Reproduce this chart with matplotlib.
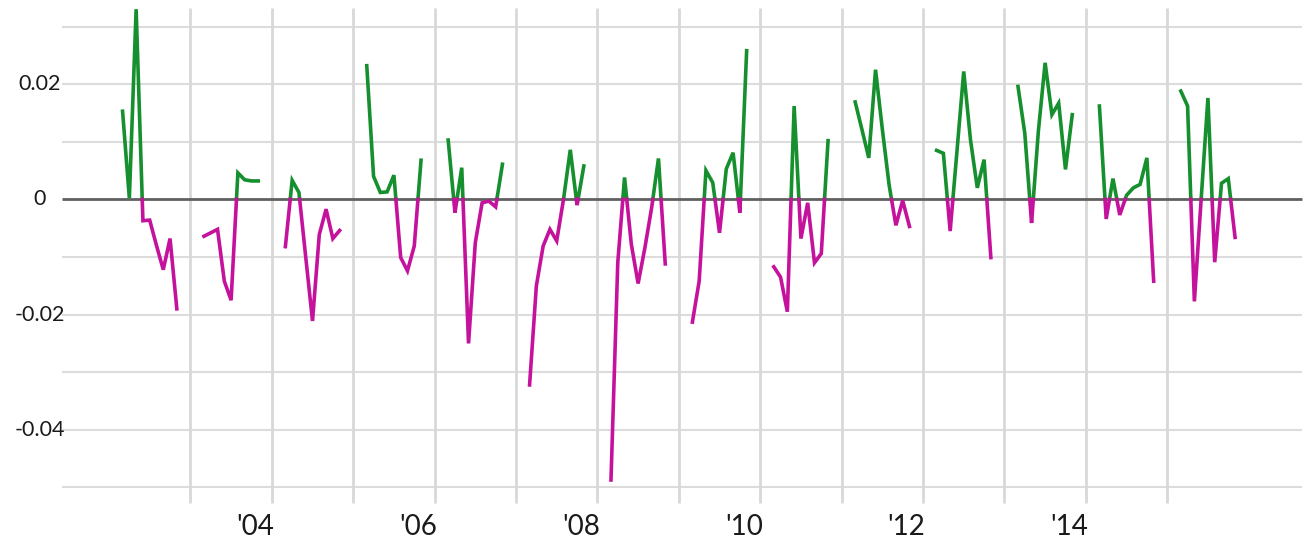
import matplotlib.pyplot as plt
import matplotlib.transforms as mtransforms
import numpy as np

# monthly values, March..November of each year
months = [3, 4, 5, 6, 7, 8, 9, 10, 11]
years = list(range(2002, 2016))

v2002 = [0.0153, 0.0002, 0.0330, -0.0037, -0.0036, -0.0080, -0.0122, -0.0068, -0.0190]
v2003 = [-0.0064, -0.0058, -0.0052, -0.0142, -0.0175, 0.0046, 0.0034, 0.0032, 0.0032]
v2004 = [-0.0082, 0.0033, 0.0012, -0.0100, -0.0211, -0.0061, -0.0017, -0.0068, -0.0054]
v2005 = [0.0232, 0.0040, 0.0012, 0.0013, 0.0042, -0.0101, -0.0124, -0.0081, 0.0068]
v2006 = [0.0103, -0.0023, 0.0055, -0.0250, -0.0075, -0.0006, -0.0003, -0.0013, 0.0061]
v2007 = [-0.0322, -0.0150, -0.0081, -0.0052, -0.0072, 0.0000, 0.0086, -0.0010, 0.0058]
v2008 = [-0.0487, -0.0110, 0.0038, -0.0078, -0.0146, -0.0084, -0.0014, 0.0071, -0.0112]
v2009 = [-0.0213, -0.0142, 0.0050, 0.0029, -0.0058, 0.0053, 0.0081, -0.0023, 0.0258]
v2010 = [-0.0117, -0.0135, -0.0195, 0.0162, -0.0068, -0.0006, -0.0110, -0.0094, 0.0102]
v2011 = [0.0169, 0.0121, 0.0072, 0.0225, 0.0122, 0.0025, -0.0045, -0.0002, -0.0047]
v2012 = [0.0085, 0.0080, -0.0055, 0.0083, 0.0222, 0.0103, 0.0020, 0.0069, -0.0101]
v2013 = [0.0196, 0.0115, -0.0041, 0.0118, 0.0237, 0.0147, 0.0167, 0.0052, 0.0147]
v2014 = [0.0162, -0.0034, 0.0036, -0.0027, 0.0007, 0.0020, 0.0026, 0.0072, -0.0142]
v2015 = [0.0188, 0.0162, -0.0177, 0.0000, 0.0176, -0.0109, 0.0028, 0.0036, -0.0066]

series = [v2002, v2003, v2004, v2005, v2006, v2007, v2008, v2009,
          v2010, v2011, v2012, v2013, v2014, v2015]

grid_years = list(range(2003, 2016))
label_years = [2004, 2006, 2008, 2010, 2012, 2014]
y_ticks = [0.02, 0, -0.02, -0.04]
y_grid = [0.03, 0.02, 0.01, -0.01, -0.02, -0.03, -0.04, -0.05]

green = "#16902e"
magenta = "#c5129d"


def split_at_zero(x, y):
    # add the zero crossings so each sign gets its own colour
    xs, ys = [x[0]], [y[0]]
    for i in range(1, len(x)):
        if y[i - 1] * y[i] < 0:
            t = y[i - 1] / (y[i - 1] - y[i])
            xs.append(x[i - 1] + t * (x[i] - x[i - 1]))
            ys.append(0.0)
        xs.append(x[i])
        ys.append(y[i])
    return np.array(xs), np.array(ys)


plt.rcParams['font.family'] = ['Lato', 'DejaVu Sans']

fig = plt.figure(figsize=(13.07, 5.48), dpi=100)
ax = fig.add_axes([0, 0, 1, 1])
ax.set_xlim(2000.661, 2016.717)
ax.set_ylim(-0.0605, 0.0346)
ax.axis("off")

ax.hlines(y_grid, 2001.423, 2016.656, color="#dcdcdc", lw=1.5, zorder=1)
ax.vlines(grid_years, -0.0527, 0.0332, color="#d8d8d8", lw=2.0, zorder=1)
ax.hlines(0, 2001.423, 2016.656, color="#606060", lw=2.0, zorder=2)

for yr, vals in zip(years, series):
    x = [yr + (m - 1) / 12 for m in months]
    xs, ys = split_at_zero(x, vals)
    pos = np.where(ys >= 0, ys, np.nan)
    neg = np.where(ys <= 0, ys, np.nan)
    ax.plot(xs, pos, color=green, lw=2.6, solid_joinstyle="miter", zorder=3)
    ax.plot(xs, neg, color=magenta, lw=2.6, solid_joinstyle="miter", zorder=3)

trans = mtransforms.blended_transform_factory(ax.transAxes, ax.transData)
for v in y_ticks:
    txt = "0" if v == 0 else "%.2f" % v
    ax.text(40 / 1307, v, txt, transform=trans, ha="center", va="center",
            fontsize=15.5, color="#1a1a1a")

for yr in label_years:
    ax.text(yr + 0.03, -0.0569, "'" + str(yr)[2:], ha="right", va="center",
            fontsize=20, color="#1a1a1a")

fig.savefig("out.png", dpi=100)
